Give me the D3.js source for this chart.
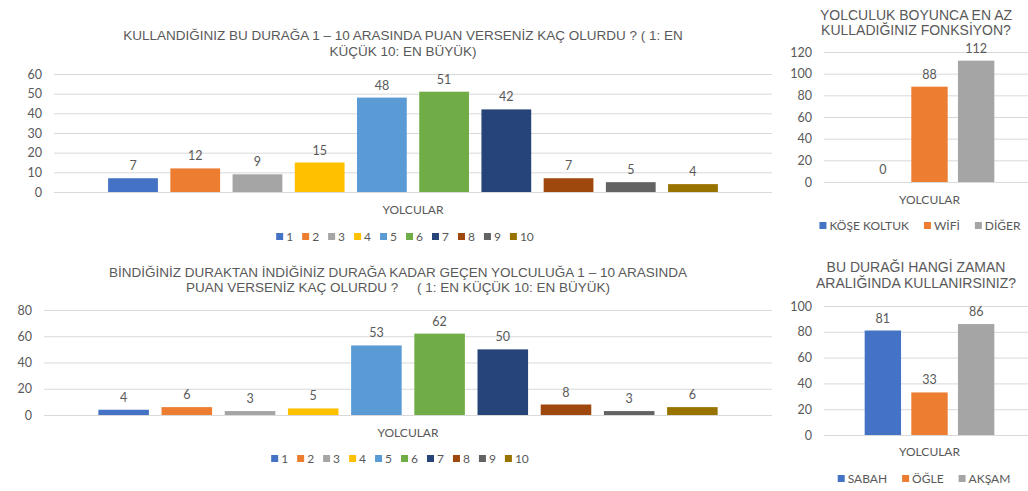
<!DOCTYPE html>
<html>
<head>
<meta charset="utf-8">
<script src="https://cdn.jsdelivr.net/npm/d3@7"></script>
<style>
body { margin: 0; background: #fff; }
svg text { fill: #595959; }
.title { font-family: "Liberation Sans", Arial, sans-serif; white-space: pre; }
.lbl { font-family: Lato, "Liberation Sans", sans-serif; }
</style>
</head>
<body>
<svg width="1028" height="491"></svg>
<script>
// data
var ratingKeys = ["1", "2", "3", "4", "5", "6", "7", "8", "9", "10"];
var ratingColors = ["#4472C4", "#ED7D31", "#A5A5A5", "#FFC000", "#5B9BD5",
                    "#70AD47", "#264478", "#9E480E", "#636363", "#997300"];
var stopScores = [7, 12, 9, 15, 48, 51, 42, 7, 5, 4];
var stopTicks = [0, 10, 20, 30, 40, 50, 60];
var rideScores = [4, 6, 3, 5, 53, 62, 50, 8, 3, 6];
var rideTicks = [0, 20, 40, 60, 80];
var featureKeys = ["KÖŞE KOLTUK", "WİFİ", "DİĞER"];
var featureValues = [0, 88, 112];
var featureTicks = [0, 20, 40, 60, 80, 100, 120];
var timeKeys = ["SABAH", "ÖĞLE", "AKŞAM"];
var timeValues = [81, 33, 86];
var timeTicks = [0, 20, 40, 60, 80, 100];
var smallColors = ["#4472C4", "#ED7D31", "#A5A5A5"];
var category = ["YOLCULAR"];

var svg = d3.select("svg");

function drawChart(c) {
  var g = svg.append("g");

  // title
  var t = g.append("text").attr("class", "title")
      .attr("text-anchor", "middle")
      .attr("xml:space", "preserve")
      .style("font-size", c.titleSize + "px");
  c.title.forEach(function(line, i) {
    t.append("tspan").attr("x", c.titleX).attr("y", c.titleY + i * c.titleGap).text(line);
  });

  var y = d3.scaleLinear()
      .domain([0, d3.max(c.ticks)])
      .range([c.bottom, c.top]);

  var x0 = d3.scaleBand()
      .domain(category)
      .range([c.left, c.right])
      .paddingOuter(c.outer);

  var x1 = d3.scaleBand()
      .domain(c.keys)
      .range([0, x0.bandwidth()])
      .paddingInner(c.inner)
      .paddingOuter(c.inner / 2);

  // gridlines + y ticks
  var ax = g.append("g")
      .attr("transform", "translate(" + c.left + ",0)")
      .call(d3.axisLeft(y).tickValues(c.ticks).tickSize(-(c.right - c.left)).tickPadding(12));
  ax.select(".domain").remove();
  ax.selectAll("line").attr("stroke", "#D9D9D9");
  ax.selectAll("text").attr("class", "lbl").style("font-size", "12.5px").attr("fill", "#595959");

  var grp = g.append("g").attr("transform", "translate(" + x0(category[0]) + ",0)");

  grp.selectAll("rect")
    .data(c.values)
    .enter().append("rect")
      .attr("x", function(d, i) { return x1(c.keys[i]); })
      .attr("y", function(d) { return y(d); })
      .attr("width", x1.bandwidth())
      .attr("height", function(d) { return c.bottom - y(d); })
      .attr("fill", function(d, i) { return c.colors[i]; });

  grp.selectAll("text.val")
    .data(c.values)
    .enter().append("text")
      .attr("class", "val lbl")
      .attr("text-anchor", "middle")
      .style("font-size", "12.5px")
      .attr("x", function(d, i) { return x1(c.keys[i]) + x1.bandwidth() / 2; })
      .attr("y", function(d) { return y(d) - 8; })
      .text(function(d) { return d; });

  // category label
  g.append("text").attr("class", "lbl")
      .attr("text-anchor", "middle")
      .style("font-size", "12px")
      .attr("x", x0(category[0]) + x0.bandwidth() / 2)
      .attr("y", c.catY)
      .text(category[0]);

  // legend
  var leg = g.append("g");
  var pos = 0;
  c.keys.forEach(function(k, i) {
    var it = leg.append("g").attr("transform", "translate(" + pos + ",0)");
    it.append("rect").attr("x", 0).attr("y", -4).attr("width", c.sq).attr("height", c.sq)
      .attr("fill", c.colors[i]);
    var tx = it.append("text").attr("class", "lbl")
      .attr("x", c.sq + 3).attr("y", 0).attr("dy", "0.35em")
      .style("font-size", c.legSize + "px").text(k);
    pos += c.sq + 3 + tx.node().getComputedTextLength() + c.legGap;
  });
  pos -= c.legGap;
  leg.attr("transform", "translate(" + (c.legCenter - pos / 2) + "," + c.legY + ")");
}

drawChart({
  title: ["KULLANDIĞINIZ BU DURAĞA 1 – 10 ARASINDA PUAN VERSENİZ KAÇ OLURDU ? ( 1: EN",
          "KÜÇÜK 10: EN BÜYÜK)"],
  titleX: 403, titleY: 40, titleGap: 16, titleSize: 13.5,
  left: 54, right: 772, top: 74, bottom: 192, outer: 0.077, inner: 0.2,
  ticks: stopTicks, keys: ratingKeys, values: stopScores, colors: ratingColors,
  catY: 214, legY: 237, legCenter: 405, sq: 7, legSize: 12, legGap: 9
});

drawChart({
  title: ["BİNDİĞİNİZ DURAKTAN İNDİĞİNİZ DURAĞA KADAR GEÇEN YOLCULUĞA 1 – 10 ARASINDA",
          "PUAN VERSENİZ KAÇ OLURDU ?     ( 1: EN KÜÇÜK 10: EN BÜYÜK)"],
  titleX: 398, titleY: 277, titleGap: 15, titleSize: 13.5,
  left: 44, right: 772, top: 310, bottom: 415, outer: 0.076, inner: 0.2,
  ticks: rideTicks, keys: ratingKeys, values: rideScores, colors: ratingColors,
  catY: 437, legY: 459, legCenter: 400, sq: 7, legSize: 12, legGap: 9
});

drawChart({
  title: ["YOLCULUK BOYUNCA EN AZ", "KULLADIĞINIZ FONKSİYON?"],
  titleX: 916, titleY: 20, titleGap: 15, titleSize: 14,
  left: 824, right: 1035, top: 52, bottom: 182, outer: 0.254, inner: 0.22,
  ticks: featureTicks, keys: featureKeys, values: featureValues, colors: smallColors,
  catY: 204, legY: 226, legCenter: 920, sq: 7, legSize: 12, legGap: 15
});

drawChart({
  title: ["BU DURAĞI HANGİ ZAMAN", "ARALIĞINDA KULLANIRSINIZ?"],
  titleX: 916, titleY: 272, titleGap: 16, titleSize: 14,
  left: 824, right: 1035, top: 306, bottom: 435, outer: 0.254, inner: 0.22,
  ticks: timeTicks, keys: timeKeys, values: timeValues, colors: smallColors,
  catY: 456, legY: 479, legCenter: 924, sq: 7, legSize: 12, legGap: 15
});
</script>
</body>
</html>
